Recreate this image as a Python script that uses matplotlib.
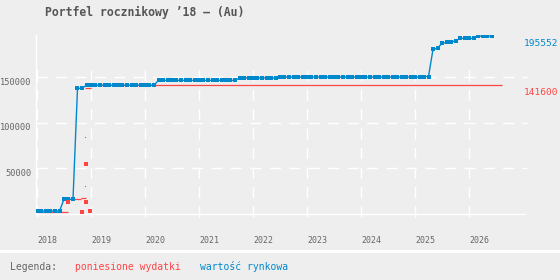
import numpy as np
import matplotlib.pyplot as plt
from matplotlib.lines import Line2D
from matplotlib.transforms import ScaledTranslation

# wartość rynkowa - one value per month from Jan 2018
market = [
    3300, 3300, 3300, 3300, 3300, 3300, 16150, 16150, 16150, 138100, 138100, 141600,   # 2018
    141600, 141600, 141600, 141600, 141600, 141600, 141600, 141600, 141600, 141600, 141600, 141600,  # 2019
    141600, 141600, 141600, 146900, 146900, 146900, 146900, 146900, 146900, 146900, 146900, 146900,  # 2020
    146900, 146900, 146900, 146900, 146900, 146900, 146900, 146900, 146900, 149500, 149500, 149500,  # 2021
    149500, 149500, 149500, 149500, 149500, 149500, 150500, 150500, 150500, 150500, 150500, 150500,  # 2022
    150500, 150500, 150500, 150500, 150500, 150500, 150500, 150500, 150500, 150500, 150500, 150500,  # 2023
    150500, 150500, 150500, 150500, 150500, 150500, 150500, 150500, 150500, 150500, 150500, 150500,  # 2024
    150500, 150500, 151000, 151000, 181000, 182100, 187600, 188700, 188700, 190400, 193000, 193000,  # 2025
    193000, 193000, 195552, 195552, 195552, 195552,  # 2026
]
market_x = 2018 + np.arange(len(market)) / 12

# poniesione wydatki - cumulative spend (horizontal segments)
spend_start = [2018.0, 2018.5, 2018.815, 2018.889, 2018.9]
spend_end = [2018.58, 2018.815, 2018.90, 2018.994, 2026.61]
spend_val = [2500, 16150, 17250, 138100, 141600]

# single purchases
buy_x = [2018.569, 2018.828, 2018.902, 2018.987, 2018.902]
buy_y = [12800, 1900, 12800, 3300, 54600]
tiny_x = [2018.894, 2018.894]
tiny_y = [84300, 30400]

years = list(range(2018, 2027))
yticks = [50000, 100000, 150000]

BLUE = '#0088cc'
RED = '#ff4444'
BG = '#eeeeee'
plt.rcParams['font.family'] = ['DejaVu Sans Mono']

fig = plt.figure(figsize=(5.6, 2.8), dpi=100, facecolor=BG)
ax = fig.add_axes([36/560, 66/280, 489/560, 179/280], facecolor=BG)
ax.set_xlim(2018 - 1/54, 2018 + 488/54)
ax.set_ylim(0, 196700)

lw_g = 1.0
dash = (0, (8.0, 6.0))
ax.hlines(yticks, ax.get_xlim()[0], ax.get_xlim()[1] + 2/54, colors='white',
          lw=lw_g, linestyles=[dash], clip_on=False, zorder=1)
ax.vlines(years, -3300, 166000, colors='white', lw=lw_g,
          linestyles=[dash], clip_on=False, zorder=1)

ax.hlines(spend_val, spend_start, spend_end, colors=RED, lw=0.9, zorder=2)
ax.plot(market_x, market, '-', color=BLUE, lw=1.0, marker='s', ms=2.5,
        mew=0, zorder=3)
ax.plot(buy_x, buy_y, 's', color=RED, ms=2.5, mew=0, zorder=4)
ax.plot(tiny_x, tiny_y, 's', color=RED, ms=0.8, mew=0, zorder=4)

for s in ['top', 'right']:
    ax.spines[s].set_visible(False)
for s in ['left', 'bottom']:
    ax.spines[s].set_color('white')
    ax.spines[s].set_linewidth(1)

ax.set_xticks(years)
ax.set_xticklabels([str(y) for y in years], ha='left')
ax.set_yticks(yticks)
ax.set_yticklabels([str(v) for v in yticks])
ax.tick_params(axis='x', length=0, pad=16, labelsize=6, labelcolor='#666666')
ax.tick_params(axis='y', length=0, pad=3, labelsize=6.2, labelcolor='#666666')
for lab in ax.get_yticklabels():
    lab.set_transform(lab.get_transform() + ScaledTranslation(0, -0.04, fig.dpi_scale_trans))

ax.annotate(str(market[-1]), xy=(1, market[-1]), xycoords=('axes fraction', 'data'),
            xytext=(-1, -5.6), textcoords='offset points', ha='left', va='center',
            color=BLUE, fontsize=6.8, annotation_clip=False)
ax.annotate(str(spend_val[-1]), xy=(1, spend_val[-1]), xycoords=('axes fraction', 'data'),
            xytext=(-1, -5.2), textcoords='offset points', ha='left', va='center',
            color=RED, fontsize=6.8, annotation_clip=False)

fig.text(45/560, 1 - 12/280, 'Portfel rocznikowy ’18 – (Au)', fontsize=8.3,
         fontweight='bold', color='#555555', va='center', ha='left')

fig.add_artist(Line2D([0, 1], [1 - 250.5/280] * 2, transform=fig.transFigure,
                      color='white', lw=2.2))
ly = 1 - 267/280
fig.text(10/560, ly, 'Legenda:', fontsize=7, color='#666666', va='center')
fig.text(75/560, ly, 'poniesione wydatki', fontsize=7, color=RED, va='center')
fig.text(200/560, ly, 'wartość rynkowa', fontsize=7, color=BLUE, va='center')

fig.savefig('out.png', dpi=100, facecolor=BG)
